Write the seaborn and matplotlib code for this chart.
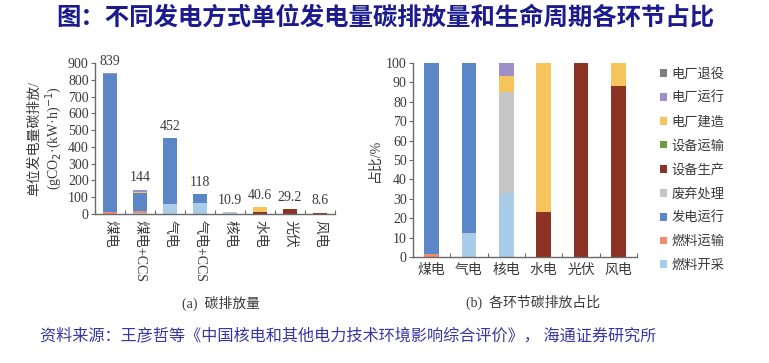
import numpy as np
import pandas as pd
import matplotlib
matplotlib.use("Agg")
import matplotlib.pyplot as plt
from matplotlib.patches import Patch
import seaborn as sns

# ---------------- data ----------------
stages = ["燃料开采", "燃料运输", "发电运行", "废弃处理", "设备生产",
          "设备运输", "电厂建造", "电厂运行", "电厂退役"]
stage_colors = ["#A9CCE9", "#F08C6C", "#5B87C9", "#C6C6C6", "#8C3325",
                "#6B9B3C", "#F5C45C", "#9E8FC9", "#7F7F7F"]

cats_a = ["煤电", "煤电+CCS", "气电", "气电+CCS", "核电", "水电", "光伏", "风电"]
totals_a = [839, 144, 452, 118, 10.9, 40.6, 29.2, 8.6]
total_labels_a = ["839", "144", "452", "118", "10.9", "40.6", "29.2", "8.6"]
# emissions per stage, g CO2 / kWh
fuel_mining_a    = [0, 4, 57, 65, 3.6, 0, 0, 0]
fuel_transport_a = [12, 14, 0, 0, 0, 0, 0, 0]
generation_a     = [824, 108, 395, 53, 0, 0, 0, 0]
waste_a          = [0, 0, 0, 0, 5.7, 0, 0, 0]
equip_prod_a     = [0, 0, 0, 0, 0, 9.3, 29.2, 7.6]
equip_trans_a    = [0, 0, 0, 0, 0, 0, 0, 0]
construction_a   = [0, 4, 0, 0, 0.9, 31.3, 0, 1.0]
operation_a      = [3, 14, 0, 0, 0.7, 0, 0, 0]
retire_a         = [0, 0, 0, 0, 0, 0, 0, 0]

cats_b = ["煤电", "气电", "核电", "水电", "光伏", "风电"]
# share per stage, %
fuel_mining_b    = [0, 12.5, 33, 0, 0, 0]
fuel_transport_b = [1.5, 0, 0, 0, 0, 0]
generation_b     = [98.5, 87.5, 0, 0, 0, 0]
waste_b          = [0, 0, 52, 0, 0, 0]
equip_prod_b     = [0, 0, 0, 23, 100, 88]
equip_trans_b    = [0, 0, 0, 0, 0, 0]
construction_b   = [0, 0, 8.5, 77, 0, 12]
operation_b      = [0, 0, 6.5, 0, 0, 0]
retire_b         = [0, 0, 0, 0, 0, 0]

yticks_a = [0, 100, 200, 300, 400, 500, 600, 700, 800, 900]
yticks_b = [0, 10, 20, 30, 40, 50, 60, 70, 80, 90, 100]

title = "图：不同发电方式单位发电量碳排放量和生命周期各环节占比"
source = "资料来源：王彦哲等《中国核电和其他电力技术环境影响综合评价》， 海通证券研究所"

# ---------------- style ----------------
sns.set_style("ticks")
FONT = ["Liberation Serif", "Noto Sans CJK SC", "DejaVu Sans"]
plt.rcParams["font.family"] = FONT
plt.rcParams["axes.unicode_minus"] = False
TXT = "#3a3a3a"
SPINE = "#6a6a6a"

df_a = pd.DataFrame({"cat": cats_a, "燃料开采": fuel_mining_a, "燃料运输": fuel_transport_a,
                     "发电运行": generation_a, "废弃处理": waste_a, "设备生产": equip_prod_a,
                     "设备运输": equip_trans_a, "电厂建造": construction_a,
                     "电厂运行": operation_a, "电厂退役": retire_a})
df_b = pd.DataFrame({"cat": cats_b, "燃料开采": fuel_mining_b, "燃料运输": fuel_transport_b,
                     "发电运行": generation_b, "废弃处理": waste_b, "设备生产": equip_prod_b,
                     "设备运输": equip_trans_b, "电厂建造": construction_b,
                     "电厂运行": operation_b, "电厂退役": retire_b})

fig = plt.figure(figsize=(7.69, 3.63), dpi=100)
ax_a = fig.add_axes([95 / 769, 149 / 363, 240 / 769, 151 / 363])
ax_b = fig.add_axes([413 / 769, 106 / 363, 224 / 769, 194 / 363])


def stacked(ax, df, width):
    cum = df[stages].cumsum(axis=1)
    for st, col in zip(stages[::-1], stage_colors[::-1]):
        d = pd.DataFrame({"cat": df["cat"], "v": cum[st]})
        sns.barplot(data=d, x="cat", y="v", color=col, saturation=1, width=width,
                    edgecolor="none", linewidth=0, ax=ax, errorbar=None)


stacked(ax_a, df_a, 0.46)
stacked(ax_b, df_b, 0.40)

for ax in (ax_a, ax_b):
    sns.despine(ax=ax)
    for s in ("left", "bottom"):
        ax.spines[s].set_color(SPINE)
        ax.spines[s].set_linewidth(1.0)
    ax.set_xlabel("")
    ax.set_ylabel("")
    ax.tick_params(axis="y", direction="out", length=3, width=0.8, color=SPINE,
                   labelsize=10, labelcolor=TXT, pad=1.5)
    ax.tick_params(axis="x", which="major", length=0, labelcolor=TXT, labelsize=10)
    ax.tick_params(axis="x", which="minor", direction="in", length=3, width=0.8, color=SPINE)

n_a = len(cats_a)
ax_a.set_xlim(-0.5, n_a - 0.5)
ax_a.set_ylim(0, 900)
ax_a.set_yticks(yticks_a)
ax_a.set_xticks(np.arange(-0.5, n_a, 1.0), minor=True)
ax_a.set_xticks(range(n_a))
ax_a.set_xticklabels(cats_a, rotation=270, ha="center", va="top", fontsize=10)
ax_a.tick_params(axis="x", pad=4)
for i, (v, lab) in enumerate(zip(totals_a, total_labels_a)):
    ax_a.annotate(lab, (i, v), xytext=(0, 4), textcoords="offset points",
                  ha="center", va="bottom", fontsize=10, color=TXT, annotation_clip=False)
ax_a.set_ylabel("单位发电量碳排放/\n(gCO$_2$·(kW·h)$^{-1}$)", fontsize=10, color=TXT,
                linespacing=1.15, labelpad=3)

n_b = len(cats_b)
ax_b.set_xlim(-0.5, n_b - 0.5)
ax_b.set_ylim(0, 100)
ax_b.set_yticks(yticks_b)
ax_b.set_xticks(np.arange(-0.5, n_b, 1.0), minor=True)
ax_b.set_xticks(range(n_b))
ax_b.set_xticklabels(cats_b, fontsize=10)
ax_b.tick_params(axis="x", pad=5)
ax_b.set_ylabel("占比/%", fontsize=10, color=TXT, labelpad=3)

fig.text(221 / 769, 1 - 303 / 363, "(a)  碳排放量", ha="center", va="center",
         fontsize=10, color=TXT)
fig.text(533 / 769, 1 - 302 / 363, "(b)  各环节碳排放占比", ha="center", va="center",
         fontsize=10, color=TXT)

handles = [Patch(facecolor=c, edgecolor="none") for c in stage_colors[::-1]]
fig.legend(handles, stages[::-1], loc="upper left", bbox_to_anchor=(660 / 769, 1 - 68 / 363),
           frameon=False, fontsize=9.5, handlelength=0.55, handleheight=0.55,
           handletextpad=0.3, labelspacing=0.85, borderaxespad=0, borderpad=0,
           labelcolor=TXT)

fig.text(0.5 * (55 + 715) / 769, 1 - 18 / 363, title, ha="center", va="center",
         fontsize=17.6, fontweight="bold", color="#1B1B8E",
         family=["Noto Sans CJK SC", "DejaVu Sans"])
fig.text(40 / 769, 1 - 336 / 363, source, ha="left", va="center", fontsize=11.6,
         color="#3636A6", family=["Noto Sans CJK SC", "DejaVu Sans"])

fig.savefig("out.png", dpi=100)
